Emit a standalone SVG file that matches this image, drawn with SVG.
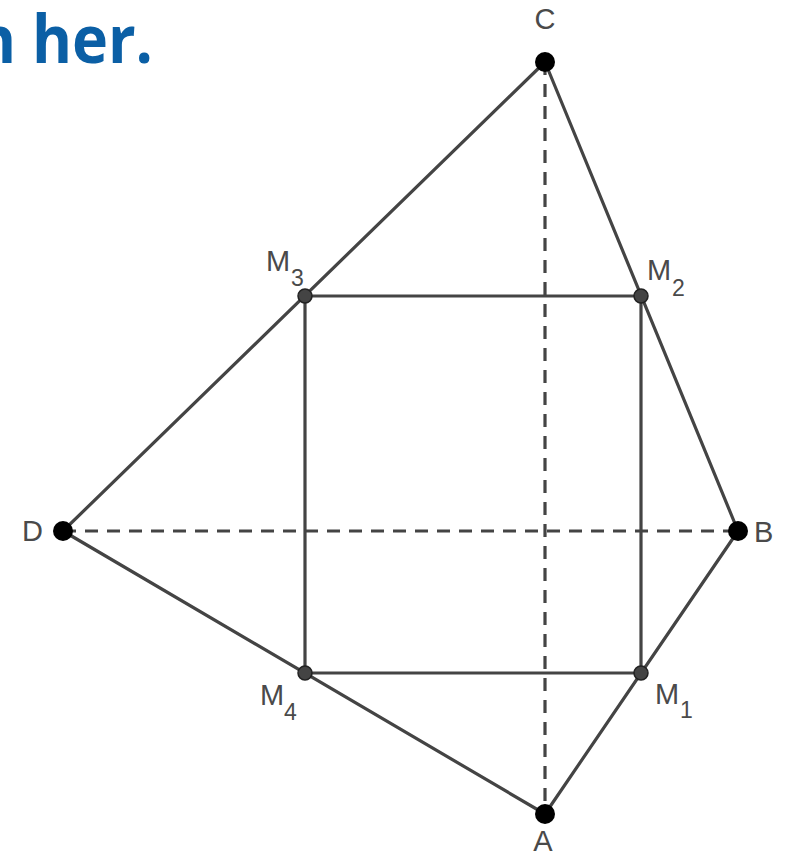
<svg xmlns="http://www.w3.org/2000/svg" width="792" height="852" viewBox="0 0 792 852">
<style>
.edge{stroke:#444;stroke-width:3.2;fill:none;stroke-linecap:round}
.dash{stroke:#444;stroke-width:3.2;fill:none;stroke-dasharray:13 9}
.vtx{fill:#000}
.mid{fill:#444;stroke:#222;stroke-width:1.5}
.lbl{font-family:"Liberation Sans",Arial,sans-serif;font-size:29px;fill:#4a4a4a}
.sub{font-size:23px}
.title{font-family:"Open Sans","Noto Sans",sans-serif;font-weight:bold;font-size:66px;fill:#0B5FA5}
</style>
<rect width="792" height="852" fill="#fff"/>
<text class="title" x="-24" y="63" textLength="177" lengthAdjust="spacingAndGlyphs">n her.</text>
<g id="connectors">
<line class="dash" x1="545" y1="62" x2="545" y2="814"/>
<line class="dash" x1="63" y1="531" x2="738" y2="531"/>
<line class="edge" x1="545" y1="62" x2="738" y2="531"/>
<line class="edge" x1="738" y1="531" x2="545" y2="814"/>
<line class="edge" x1="545" y1="814" x2="63" y2="531"/>
<line class="edge" x1="63" y1="531" x2="545" y2="62"/>
<line class="edge" x1="305" y1="296" x2="641" y2="296"/>
<line class="edge" x1="641" y1="296" x2="641" y2="673"/>
<line class="edge" x1="641" y1="673" x2="305" y2="673"/>
<line class="edge" x1="305" y1="673" x2="305" y2="296"/>
</g>
<g id="C"><circle class="vtx" cx="545" cy="62" r="10"/><text class="lbl" x="545" y="29" text-anchor="middle">C</text></g>
<g id="B"><circle class="vtx" cx="738" cy="531" r="10"/><text class="lbl" x="754" y="542">B</text></g>
<g id="A"><circle class="vtx" cx="545" cy="814" r="10"/><text class="lbl" x="543" y="851" text-anchor="middle">A</text></g>
<g id="D"><circle class="vtx" cx="63" cy="531" r="10"/><text class="lbl" x="22" y="541">D</text></g>
<g id="M3"><circle class="mid" cx="305" cy="296" r="7"/><text class="lbl" x="266" y="271">M</text><text class="lbl sub" x="291" y="286">3</text></g>
<g id="M2"><circle class="mid" cx="641" cy="296" r="7"/><text class="lbl" x="647" y="280">M</text><text class="lbl sub" x="672" y="296">2</text></g>
<g id="M4"><circle class="mid" cx="305" cy="673" r="7"/><text class="lbl" x="260" y="705">M</text><text class="lbl sub" x="284" y="720">4</text></g>
<g id="M1"><circle class="mid" cx="641" cy="673" r="7"/><text class="lbl" x="655" y="704">M</text><text class="lbl sub" x="680" y="718">1</text></g>
</svg>
